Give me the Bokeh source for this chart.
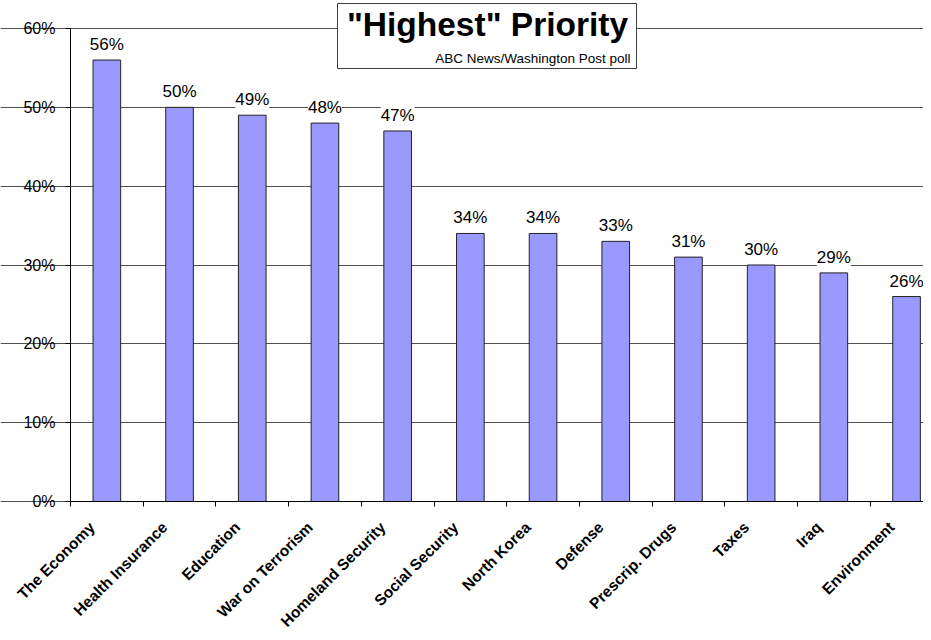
from bokeh.plotting import figure
from bokeh.models import (ColumnDataSource, FixedTicker, Range1d, LabelSet, Label,
                          BoxAnnotation)
from bokeh.core.properties import value
from bokeh.embed import file_html
from bokeh.resources import INLINE
import math

categories = ["The Economy", "Health Insurance", "Education", "War on Terrorism",
              "Homeland Security", "Social Security", "North Korea", "Defense",
              "Prescrip. Drugs", "Taxes", "Iraq", "Environment"]
values = [56, 50, 49, 48, 47, 34, 34, 33, 31, 30, 29, 26]
y_ticks = [0, 10, 20, 30, 40, 50, 60]
y_tick_labels = ["0%", "10%", "20%", "30%", "40%", "50%", "60%"]
title_text = '"Highest" Priority'
subtitle_text = "ABC News/Washington Post poll"

FONT = "Liberation Sans"

idx = list(range(len(categories)))
source = ColumnDataSource(dict(x=idx, top=values,
                               lbl=[f"{v}%" for v in values],
                               cat=categories,
                               base=[0] * len(categories)))

# layout (pixels)
W, H = 923, 632
LEFT, ZERO_Y, TOP60_Y, CAT_W = 70, 501, 28, 72.7
px_per_unit = (ZERO_Y - TOP60_Y) / 60.0
y_end = 60 + TOP60_Y / px_per_unit
y_start = -(H - ZERO_Y) / px_per_unit
x_start = -0.5 - LEFT / CAT_W
x_end = -0.5 + (W - LEFT) / CAT_W

p = figure(width=W, height=H, output_backend="svg", toolbar_location=None,
           x_range=Range1d(x_start, x_end), y_range=Range1d(y_start, y_end),
           min_border_left=0, min_border_right=0, min_border_top=0,
           min_border_bottom=0)
p.outline_line_color = None
p.background_fill_color = "white"
p.border_fill_color = "white"

p.vbar(x="x", top="top", width=0.38, source=source,
       fill_color="#9999FF", line_color="#222222", line_width=1)

# grid
p.xgrid.grid_line_color = None
p.ygrid.ticker = FixedTicker(ticks=y_ticks)
p.ygrid.bounds = (-0.5, x_end)
p.ygrid.grid_line_color = "#505050"
p.ygrid.grid_line_width = 1

# y axis fixed at the left edge of the first category
p.yaxis.fixed_location = -0.5
p.yaxis.ticker = FixedTicker(ticks=y_ticks)
p.yaxis.major_label_overrides = {t: l for t, l in zip(y_ticks, y_tick_labels)}
p.yaxis.bounds = (0, 60)
p.yaxis.axis_line_color = "black"
p.yaxis.major_tick_line_color = "black"
p.yaxis.major_tick_out = 5
p.yaxis.major_tick_in = 0
p.yaxis.minor_tick_line_color = None
p.yaxis.major_label_standoff = 10
p.yaxis.major_label_text_font = FONT
p.yaxis.major_label_text_font_size = "16px"
p.yaxis.major_label_text_color = "black"

# x axis fixed at y = 0 (line and category boundary ticks)
boundaries = [i - 0.5 for i in range(len(categories) + 1)]
p.xaxis.fixed_location = 0
p.xaxis.bounds = (-0.5, x_end)
p.xaxis.ticker = FixedTicker(ticks=boundaries)
p.xaxis.major_label_overrides = {b: "" for b in boundaries}
p.xaxis.major_label_text_font_size = "0px"
p.xaxis.major_label_standoff = 0
p.xaxis.axis_line_color = "black"
p.xaxis.major_tick_line_color = "black"
p.xaxis.major_tick_out = 5
p.xaxis.major_tick_in = 0
p.xaxis.minor_tick_line_color = None

# category labels, rotated 45 degrees, right end anchored under each category
cat_labels = LabelSet(x="x", y="base", text="cat", source=source,
                      x_offset=-15, y_offset=-23, angle=math.pi / 4,
                      text_align="right", text_baseline="middle",
                      text_font=value(FONT), text_font_style=value("bold"),
                      text_font_size=value("15.5px"), text_color=value("black"))
p.add_layout(cat_labels)

labels = LabelSet(x="x", y="top", text="lbl", source=source, y_offset=10,
                  text_align="center", text_baseline="alphabetic",
                  text_font=value(FONT), text_font_size=value("17px"),
                  text_color=value("black"),
                  background_fill_color="white")
p.add_layout(labels)

# title box
def ydata(ref_y):
    return 60 - (ref_y - TOP60_Y) / px_per_unit

def xdata(ref_x):
    return x_start + ref_x / CAT_W

box = BoxAnnotation(left=xdata(337), right=xdata(636), top=ydata(3), bottom=ydata(68),
                    fill_color="white", fill_alpha=1.0, line_color="#404040",
                    line_width=1, line_alpha=1.0)
p.add_layout(box)

p.add_layout(Label(x=xdata(487), y=ydata(24), text=title_text,
                   text_align="center", text_baseline="alphabetic",
                   text_font=FONT, text_font_style="bold",
                   text_font_size="33.5px", text_color="black"))
p.add_layout(Label(x=xdata(630), y=ydata(58), text=subtitle_text,
                   text_align="right", text_baseline="alphabetic",
                   text_font=FONT, text_font_size="13.5px", text_color="black"))

open("out.html", "w").write(file_html(p, INLINE))
